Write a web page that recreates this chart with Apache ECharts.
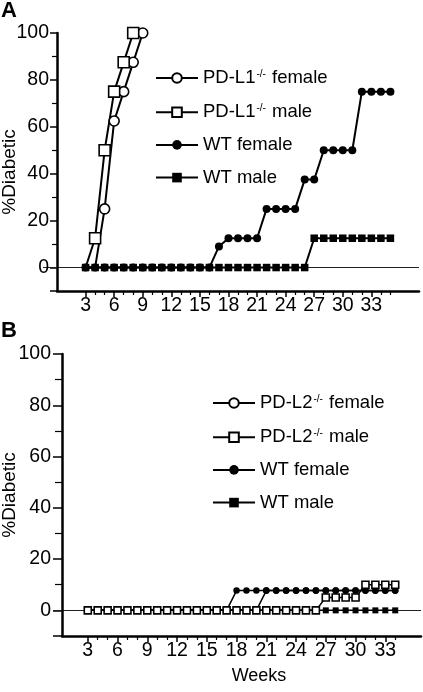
<!DOCTYPE html>
<html><head><meta charset="utf-8">
<script src="https://cdn.jsdelivr.net/npm/echarts@6/dist/echarts.min.js"></script>
<style>html,body{margin:0;padding:0;background:#fff}#c{width:423px;height:692px}</style>
</head><body><div id="c"></div>
<script>
const FONT = "'Liberation Sans', Arial, Helvetica, sans-serif";

// ---- Panel A data ----
const weeksA = [3,4,5,6,7,8,9,10,11,12,13,14,15,16,17,18,19,20,21,22,23,24,25,26,27,28,29,30,31,32,33,34,35];
const pdl1FemaleWeeks = [3,4,5,6,7,8,9];
const pdl1FemaleVals  = [0,0,25,62.5,75,87.5,100];
const pdl1MaleWeeks   = [3,4,5,6,7,8];
const pdl1MaleVals    = [0,12.5,50,75,87.5,100];
const wtFemaleA = [0,0,0,0,0,0,0,0,0,0,0,0,0,0,9,12.5,12.5,12.5,12.5,25,25,25,25,37.5,37.5,50,50,50,50,75,75,75,75];
const wtMaleA   = [0,0,0,0,0,0,0,0,0,0,0,0,0,0,0,0,0,0,0,0,0,0,0,0,12.5,12.5,12.5,12.5,12.5,12.5,12.5,12.5,12.5];

// ---- Panel B data ----
const weeksB = [3,4,5,6,7,8,9,10,11,12,13,14,15,16,17,18,19,20,21,22,23,24,25,26,27,28,29,30,31,32,33,34];
const pdl2Female = [0,0,0,0,0,0,0,0,0,0,0,0,0,0,0,0,0,0,7.7,7.7,7.7,7.7,7.7,7.7,7.7,7.7,7.7,7.7,7.7,7.7,7.7,7.7];
const pdl2Male   = [0,0,0,0,0,0,0,0,0,0,0,0,0,0,0,0,0,0,0,0,0,0,0,0,5,5,5,5,10,10,10,10];
const wtFemaleB  = [0,0,0,0,0,0,0,0,0,0,0,0,0,0,0,7.7,7.7,7.7,7.7,7.7,7.7,7.7,7.7,7.7,7.7,7.7,7.7,7.7,7.7,7.7,7.7,7.7];
const wtMaleB    = [0,0,0,0,0,0,0,0,0,0,0,0,0,0,0,0,0,0,0,0,0,0,0,0,0,0,0,0,0,0,0,0];

// ---- ticks / labels ----
const xMajorTicks = [3,6,9,12,15,18,21,24,27,30,33];
const xMinorTicksA = [4,5,7,8,10,11,13,14,16,17,19,20,22,23,25,26,28,29,31,32,34,35];
const xMinorTicksB = [4,5,7,8,10,11,13,14,16,17,19,20,22,23,25,26,28,29,31,32,34];
const yMajorTicks = [-10,0,20,40,60,80,100];
const yLabels = [0,20,40,60,80,100];
const yMinorTicks = [10,30,50,70,90];
const zeroTick = [0];

const namesA = ['PD-L1-/- female','PD-L1-/- male','WT female','WT male'];
const namesB = ['PD-L2-/- female','PD-L2-/- male','WT female','WT male'];

const pair = (ws, vs) => ws.map((w, i) => [w, vs[i]]);
// points at 0 that sit under the WT markers: keep the line, hide the marker
const pairHideZero = (ws, vs) => ws.map((w, i) => vs[i] === 0 ? {value: [w, vs[i]], symbol: 'none'} : [w, vs[i]]);

function legendFmt(name) {
  const m = name.match(/^(.*?)-\/-(.*)$/);
  if (m) return '{n|' + m[1] + '}{s|-/-}{n|' + m[2] + '}';
  return '{n|' + name + '}';
}
const richText = {
  n: {fontSize: 18.5, fontFamily: FONT, color: '#000', lineHeight: 22},
  s: {fontSize: 10, fontFamily: FONT, color: '#000', lineHeight: 10, verticalAlign: 'top', padding: [2,1,0,1]}
};

function xAxes(grid, min, max, minorTicks, extra) {
  return [
    Object.assign({
      gridIndex: grid, type: 'value', min: min, max: max, position: 'bottom',
      axisLine: {show: true, onZero: false, lineStyle: {color: '#000', width: 2.5}},
      axisTick: {show: true, customValues: xMajorTicks, length: 6, lineStyle: {color: '#000', width: 1.5}},
      axisLabel: {show: true, customValues: xMajorTicks, margin: 5, fontSize: 19.5, color: '#000', fontFamily: FONT},
      splitLine: {show: false}
    }, extra || {}),
    {
      gridIndex: grid, type: 'value', min: min, max: max, position: 'bottom',
      axisLine: {show: false, onZero: false},
      axisTick: {show: true, customValues: minorTicks, length: 4, lineStyle: {color: '#000', width: 1.2}},
      axisLabel: {show: false}, splitLine: {show: false}
    }
  ];
}
function yAxes(grid, nameGap, namePad, labelMargin, majorLen, minorLen, zeroLen) {
  return [
    {
      gridIndex: grid, type: 'value', min: -10, max: 100, position: 'left',
      name: '%Diabetic', nameLocation: 'middle', nameGap: nameGap, nameMoveOverlap: false,
      nameTextStyle: {fontSize: 19, color: '#000', fontFamily: FONT, padding: namePad},
      axisLine: {show: true, lineStyle: {color: '#000', width: 2.5}},
      axisTick: {show: true, customValues: yMajorTicks, length: majorLen, lineStyle: {color: '#000', width: 1.5}},
      axisLabel: {show: true, customValues: yLabels, margin: labelMargin, fontSize: 19.5, color: '#000', fontFamily: FONT},
      splitLine: {show: false}
    },
    {
      gridIndex: grid, type: 'value', min: -10, max: 100, position: 'left',
      axisLine: {show: false},
      axisTick: {show: true, customValues: yMinorTicks, length: minorLen, lineStyle: {color: '#000', width: 1.2}},
      axisLabel: {show: false}, splitLine: {show: false}
    },
    {
      gridIndex: grid, type: 'value', min: -10, max: 100, position: 'left',
      axisLine: {show: false},
      axisTick: {show: true, customValues: zeroTick, length: zeroLen, lineStyle: {color: '#222', width: 1}},
      axisLabel: {show: false},
      splitLine: {show: true, lineStyle: {color: '#222', width: 1}}
    }
  ];
}

function lineSeries(name, data, xi, yi, symbol, size, open, lw, bw) {
  return {
    name: name, type: 'line', data: data, xAxisIndex: xi, yAxisIndex: yi,
    symbol: symbol, symbolSize: size, showAllSymbol: true,
    lineStyle: {color: '#000', width: lw},
    itemStyle: open ? {color: '#fff', borderColor: '#000', borderWidth: bw}
                    : {color: '#000', borderColor: '#000', borderWidth: 0},
    emphasis: {disabled: true}, animation: false, silent: true
  };
}

const option = {
  animation: false,
  textStyle: {fontFamily: FONT},
  title: [
    {text: 'A', left: 1, top: 0, padding: 0, textStyle: {fontSize: 22, fontWeight: 'bold', color: '#000', fontFamily: FONT}},
    {text: 'B', left: 1, top: 320, padding: 0, textStyle: {fontSize: 22, fontWeight: 'bold', color: '#000', fontFamily: FONT}}
  ],
  grid: [
    {left: 57, right: 4, top: 33, height: 258, outerBoundsMode: 'none', containLabel: false},
    {left: 62, right: 2, top: 354, height: 282, outerBoundsMode: 'none', containLabel: false}
  ],
  xAxis: [].concat(
    xAxes(0, 0, 38, xMinorTicksA),
    xAxes(1, 0.4, 36.6, xMinorTicksB, {name: 'Weeks', nameLocation: 'middle', nameGap: 31, nameMoveOverlap: false,
      nameTextStyle: {fontSize: 18, color: '#000', fontFamily: FONT, padding: [0,0,0,35]}})
  ),
  yAxis: [].concat(
    yAxes(0, 38, [0,20,0,0], 8, 7, 5, 14),
    yAxes(1, 43, [0,0,0,0], 11, 9, 7, 9)
  ),
  legend: [
    {data: namesA, orient: 'vertical', left: 155, top: 67, padding: 0, itemWidth: 42, itemHeight: 12, itemGap: 13.7,
     formatter: legendFmt, textStyle: {rich: richText, fontSize: 18.5, color: '#000'}, selectedMode: false},
    {data: namesB, orient: 'vertical', left: 212, top: 392, padding: 0, itemWidth: 42, itemHeight: 12, itemGap: 13.7,
     formatter: legendFmt, textStyle: {rich: richText, fontSize: 18.5, color: '#000'}, selectedMode: false}
  ],
  series: [
    lineSeries(namesA[0], pairHideZero(pdl1FemaleWeeks, pdl1FemaleVals), 0, 0, 'circle', 10, true, 2, 1.6),
    lineSeries(namesA[1], pairHideZero(pdl1MaleWeeks, pdl1MaleVals), 0, 0, 'rect', 11, true, 2, 1.6),
    lineSeries(namesA[2], pair(weeksA, wtFemaleA), 0, 0, 'circle', 8, false, 2, 0),
    lineSeries(namesA[3], pair(weeksA, wtMaleA), 0, 0, 'rect', 7.5, false, 2, 0),
    lineSeries(namesB[0], pair(weeksB, pdl2Female), 2, 3, 'circle', 5.5, true, 1.5, 1.2),
    lineSeries(namesB[3], pair(weeksB, wtMaleB), 2, 3, 'rect', 6, false, 1.5, 0),
    lineSeries(namesB[2], pair(weeksB, wtFemaleB), 2, 3, 'circle', 6.5, false, 1.5, 0),
    lineSeries(namesB[1], pair(weeksB, pdl2Male), 2, 3, 'rect', 7, true, 1.5, 1.6)
  ]
};

const chart = echarts.init(document.getElementById('c'), null, {renderer: 'canvas'});
chart.setOption(option);
</script>
</body></html>
